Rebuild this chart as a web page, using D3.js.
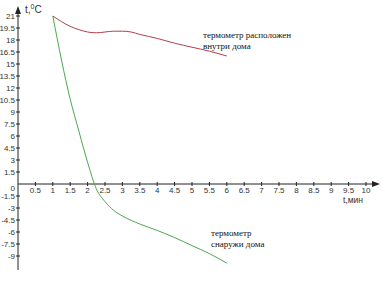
<!DOCTYPE html>
<html>
<head>
<meta charset="utf-8">
<script src="https://cdn.jsdelivr.net/npm/d3@7"></script>
<style>
  body { margin: 0; background: #fff; }
  svg { display: block; }
</style>
</head>
<body>
<div id="chart"></div>
<script>
// time, minutes
var tInside  = [1, 1.25, 1.5, 1.75, 2, 2.25, 2.5, 2.75, 3, 3.25, 3.5, 4, 4.5, 5, 5.5, 6];
var tempInside = [21, 20.3, 19.7, 19.3, 19.0, 18.9, 19.0, 19.1, 19.1, 19.0, 18.7, 18.2, 17.6, 17.1, 16.6, 16.0];
var tOutside = [1, 1.5, 1.75, 2, 2.25, 2.5, 2.75, 3, 3.5, 4, 4.5, 5, 5.5, 6];
var tempOutside = [21, 10.6, 6.6, 2.7, -0.6, -2.2, -3.3, -4.0, -5.0, -5.8, -6.7, -7.7, -8.7, -9.9];

var xTicks = [0.5, 1, 1.5, 2, 2.5, 3, 3.5, 4, 4.5, 5, 5.5, 6, 6.5, 7, 7.5, 8, 8.5, 9, 9.5, 10];
var yTicks = [21, 19.5, 18, 16.5, 15, 13.5, 12, 10.5, 9, 7.5, 6, 4.5, 3, 1.5, -1.5, -3, -4.5, -6, -7.5, -9];

var width = 385, height = 285;

var svg = d3.select("#chart").append("svg")
  .attr("width", width)
  .attr("height", height);

var x = d3.scaleLinear().domain([0, 10]).range([18, 366]);
var y = d3.scaleLinear().domain([-9, 21]).range([256, 16]);

var axisColor = "#222";
var sans = "'Liberation Sans', Arial, sans-serif";
var serif = "'Liberation Serif', 'Times New Roman', 'DejaVu Serif', serif";

// y axis line with arrow
svg.append("line")
  .attr("x1", x(0)).attr("x2", x(0))
  .attr("y1", 12).attr("y2", 270)
  .attr("stroke", axisColor).attr("stroke-width", 1);
svg.append("path")
  .attr("d", `M${x(0)},6 L${x(0) - 3},14 L${x(0) + 3},14 Z`)
  .attr("fill", axisColor);

// x axis line with arrow
svg.append("line")
  .attr("x1", x(0)).attr("x2", 374)
  .attr("y1", y(0)).attr("y2", y(0))
  .attr("stroke", axisColor).attr("stroke-width", 1);
svg.append("path")
  .attr("d", `M380,${y(0)} L372,${y(0) - 3} L372,${y(0) + 3} Z`)
  .attr("fill", axisColor);

// ticks
svg.selectAll("line.xtick").data(xTicks).join("line")
  .attr("class", "xtick")
  .attr("x1", d => x(d)).attr("x2", d => x(d))
  .attr("y1", y(0) - 2).attr("y2", y(0) + 2)
  .attr("stroke", axisColor);

svg.selectAll("line.ytick").data(yTicks).join("line")
  .attr("class", "ytick")
  .attr("x1", x(0) - 2).attr("x2", x(0) + 2)
  .attr("y1", d => y(d)).attr("y2", d => y(d))
  .attr("stroke", axisColor);

// tick labels
svg.selectAll("text.xlab").data(xTicks).join("text")
  .attr("class", "xlab")
  .attr("x", d => x(d))
  .attr("y", y(0) + 9)
  .attr("text-anchor", "middle")
  .style("font-family", sans)
  .style("font-size", "8px")
  .attr("fill", "#333")
  .text(d => d);

svg.selectAll("text.ylab").data(yTicks).join("text")
  .attr("class", "ylab")
  .attr("x", x(0) - 3)
  .attr("y", d => y(d) + 3)
  .attr("text-anchor", "end")
  .style("font-family", sans)
  .style("font-size", "8px")
  .attr("fill", "#333")
  .text(d => d);

svg.append("text")
  .attr("x", x(0) - 3).attr("y", y(0) + 7)
  .attr("text-anchor", "end")
  .style("font-family", sans)
  .style("font-size", "8px")
  .attr("fill", "#333")
  .text("0");

// axis titles
var yTitle = svg.append("text")
  .attr("x", 25).attr("y", 13)
  .style("font-family", sans)
  .style("font-size", "10px")
  .attr("fill", "#333");
yTitle.append("tspan").text("t,");
yTitle.append("tspan").attr("dy", -4).style("font-size", "7px").text("0");
yTitle.append("tspan").attr("dy", 4).text("C");

svg.append("text")
  .attr("x", 343).attr("y", 203)
  .style("font-family", sans)
  .style("font-size", "8.5px")
  .attr("fill", "#333")
  .text("t,мин");

// lines
var line = d3.line()
  .x(d => x(d[0]))
  .y(d => y(d[1]))
  .curve(d3.curveMonotoneX);

svg.append("path")
  .datum(d3.zip(tInside, tempInside))
  .attr("fill", "none")
  .attr("stroke", "#b0404c")
  .attr("stroke-width", 1)
  .attr("d", line);

svg.append("path")
  .datum(d3.zip(tOutside, tempOutside))
  .attr("fill", "none")
  .attr("stroke", "#4ea64e")
  .attr("stroke-width", 1)
  .attr("d", line);

// annotations
function note(lines, px, py) {
  var t = svg.append("text")
    .attr("x", px).attr("y", py)
    .style("font-family", serif)
    .style("font-size", "9px")
    .attr("fill", "#111");
  lines.forEach((s, i) => {
    t.append("tspan").attr("x", px).attr("dy", i ? 10.5 : 0).text(s);
  });
}
note(["термометр расположен", "внутри дома"], 203, 38);
note(["термометр", "снаружи дома"], 211, 236);
</script>
</body>
</html>
